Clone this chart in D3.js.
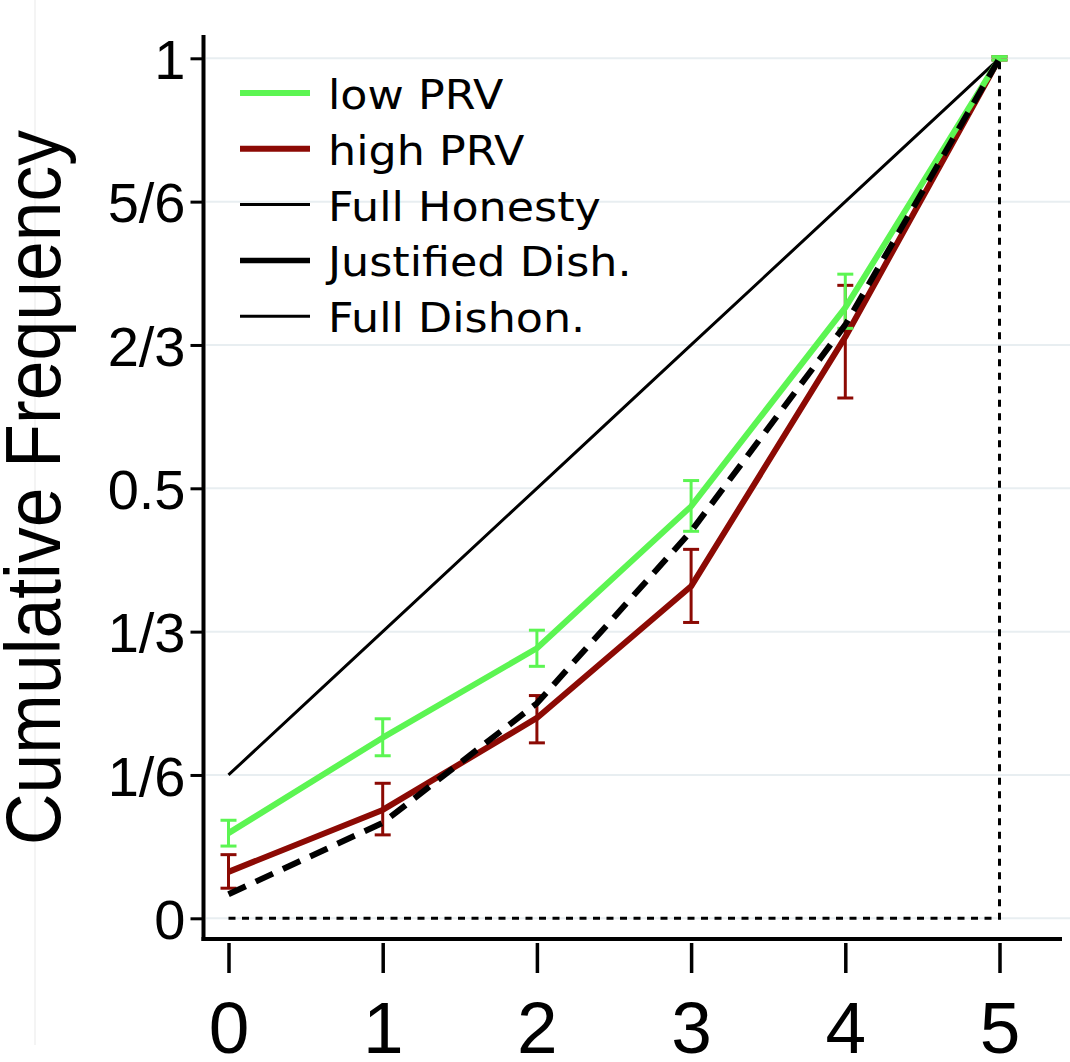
<!DOCTYPE html>
<html>
<head>
<meta charset="utf-8">
<script src="https://cdn.jsdelivr.net/npm/d3@7/dist/d3.min.js"></script>
<style>
  html, body { margin: 0; padding: 0; background: #fff; }
  svg { display: block; }
</style>
</head>
<body>
<svg id="chart" width="1070" height="1062"></svg>
<script>
// Number of rounds (x) and cumulative frequencies per condition
const rounds = [0, 1, 2, 3, 4, 5];

const lowPRV   = [0.099, 0.210, 0.314, 0.479, 0.710, 1.000];
const lowLo    = [0.084, 0.189, 0.293, 0.450, 0.686, 0.998];
const lowHi    = [0.114, 0.232, 0.335, 0.509, 0.749, 1.002];

const highPRV  = [0.054, 0.126, 0.233, 0.386, 0.676, 1.000];
const highLo   = [0.035, 0.097, 0.204, 0.344, 0.605, 0.998];
const highHi   = [0.074, 0.157, 0.259, 0.429, 0.736, 1.002];

const fullHonesty   = [1/6, 1/3, 1/2, 2/3, 5/6, 1];
const justifiedDish = [0.028, 0.111, 0.250, 0.450, 0.690, 1.000];
const fullDishonX   = [0, 5, 5];
const fullDishonY   = [0, 0, 1];

const yTickValues = [0, 1/6, 1/3, 0.5, 2/3, 5/6, 1];
const yTickLabels = ["0", "1/6", "1/3", "0.5", "2/3", "5/6", "1"];
const xTickLabels = ["0", "1", "2", "3", "4", "5"];

const legendLabels = ["low PRV", "high PRV", "Full Honesty", "Justified Dish.", "Full Dishon."];

const GREEN = "#5cf552";
const RED = "#8c0a04";

const svg = d3.select("#chart");

const x = d3.scaleLinear().domain([0, 5]).range([228.5, 999.5]);
const y = d3.scaleLinear().domain([0, 1]).range([918.3, 58.3]);

// faint vertical rule on the far left
svg.append("line")
  .attr("x1", 35).attr("x2", 35).attr("y1", 0).attr("y2", 1045)
  .attr("stroke", "#f1f1f1").attr("stroke-width", 1.5);

// horizontal grid
svg.append("g").selectAll("line").data(yTickValues).join("line")
  .attr("x1", 206).attr("x2", 1070)
  .attr("y1", d => y(d)).attr("y2", d => y(d))
  .attr("stroke", "#e8eef1").attr("stroke-width", 2);

// axes
const yAxis = d3.axisLeft(y)
  .tickValues(yTickValues)
  .tickFormat((d, i) => yTickLabels[i])
  .tickSize(13);

const gy = svg.append("g").attr("transform", "translate(203.5,0)").call(yAxis);
gy.select(".domain").remove();
gy.selectAll(".tick line").attr("stroke", "#000").attr("stroke-width", 3);
gy.selectAll(".tick text")
  .attr("x", -18)
  .attr("dy", "0.36em")
  .attr("fill", "#000")
  .style("font-family", "'Liberation Sans', Arial, sans-serif")
  .style("font-size", "56px");

const xAxis = d3.axisBottom(x)
  .tickValues(rounds)
  .tickFormat((d, i) => xTickLabels[i])
  .tickSize(30);

const gx = svg.append("g").attr("transform", "translate(0,943)").call(xAxis);
gx.select(".domain").remove();
gx.selectAll(".tick line").attr("stroke", "#000").attr("stroke-width", 3.5);
gx.selectAll(".tick text")
  .attr("y", 110)
  .attr("dy", 0)
  .attr("fill", "#000")
  .style("font-family", "'Liberation Sans', Arial, sans-serif")
  .style("font-size", "73px");

// axis lines
svg.append("line")
  .attr("x1", 203.5).attr("x2", 203.5).attr("y1", 35).attr("y2", 941)
  .attr("stroke", "#000").attr("stroke-width", 4);
svg.append("line")
  .attr("x1", 201.5).attr("x2", 1062).attr("y1", 939).attr("y2", 939)
  .attr("stroke", "#000").attr("stroke-width", 4);

// y axis title
svg.append("text")
  .attr("transform", "translate(60,487.5) rotate(-90)")
  .attr("text-anchor", "middle")
  .attr("textLength", 715)
  .attr("lengthAdjust", "spacingAndGlyphs")
  .style("font-family", "'Liberation Sans', Arial, sans-serif")
  .style("font-size", "77px")
  .attr("fill", "#000")
  .text("Cumulative Frequency");

const line = d3.line().x(d => x(d[0])).y(d => y(d[1]));
const pts = vals => rounds.map((r, i) => [r, vals[i]]);

function errorBars(lo, hi, color) {
  const g = svg.append("g").attr("stroke", color).attr("stroke-width", 3).attr("fill", "none");
  rounds.forEach((r, i) => {
    const cx = x(r);
    g.append("line").attr("x1", cx).attr("x2", cx).attr("y1", y(lo[i])).attr("y2", y(hi[i]));
    g.append("line").attr("x1", cx - 8).attr("x2", cx + 8).attr("y1", y(lo[i])).attr("y2", y(lo[i]));
    g.append("line").attr("x1", cx - 8).attr("x2", cx + 8).attr("y1", y(hi[i])).attr("y2", y(hi[i]));
  });
}

// reference: full honesty
svg.append("path").datum(pts(fullHonesty)).attr("d", line)
  .attr("fill", "none").attr("stroke", "#000").attr("stroke-width", 3);

// observed conditions
svg.append("path").datum(pts(highPRV)).attr("d", line)
  .attr("fill", "none").attr("stroke", RED).attr("stroke-width", 6).attr("stroke-linejoin", "round");
errorBars(highLo, highHi, RED);

svg.append("path").datum(pts(lowPRV)).attr("d", line)
  .attr("fill", "none").attr("stroke", GREEN).attr("stroke-width", 6).attr("stroke-linejoin", "round");
errorBars(lowLo, lowHi, GREEN);

// reference: justified dishonesty
svg.append("path").datum(pts(justifiedDish)).attr("d", line)
  .attr("fill", "none").attr("stroke", "#000").attr("stroke-width", 6)
  .attr("stroke-dasharray", "19,11");

// reference: full dishonesty
svg.append("path").datum(fullDishonX.map((v, i) => [v, fullDishonY[i]])).attr("d", line)
  .attr("fill", "none").attr("stroke", "#000").attr("stroke-width", 3)
  .attr("stroke-dasharray", "7,6.5");

// legend
const legendStyles = [
  { color: GREEN, width: 6 },
  { color: RED, width: 6 },
  { color: "#000", width: 3 },
  { color: "#000", width: 5.5 },
  { color: "#000", width: 3 }
];
const legend = svg.append("g");
legendLabels.forEach((lab, i) => {
  const ly = 93 + i * 55.8;
  legend.append("line")
    .attr("x1", 240).attr("x2", 310).attr("y1", ly).attr("y2", ly)
    .attr("stroke", legendStyles[i].color).attr("stroke-width", legendStyles[i].width);
  legend.append("text")
    .attr("transform", `translate(328,${ly + 16}) scale(1.11,1)`)
    .style("font-family", "'DejaVu Sans', Verdana, sans-serif")
    .style("font-size", "40px")
    .attr("fill", "#000")
    .text(lab);
});
</script>
</body>
</html>
